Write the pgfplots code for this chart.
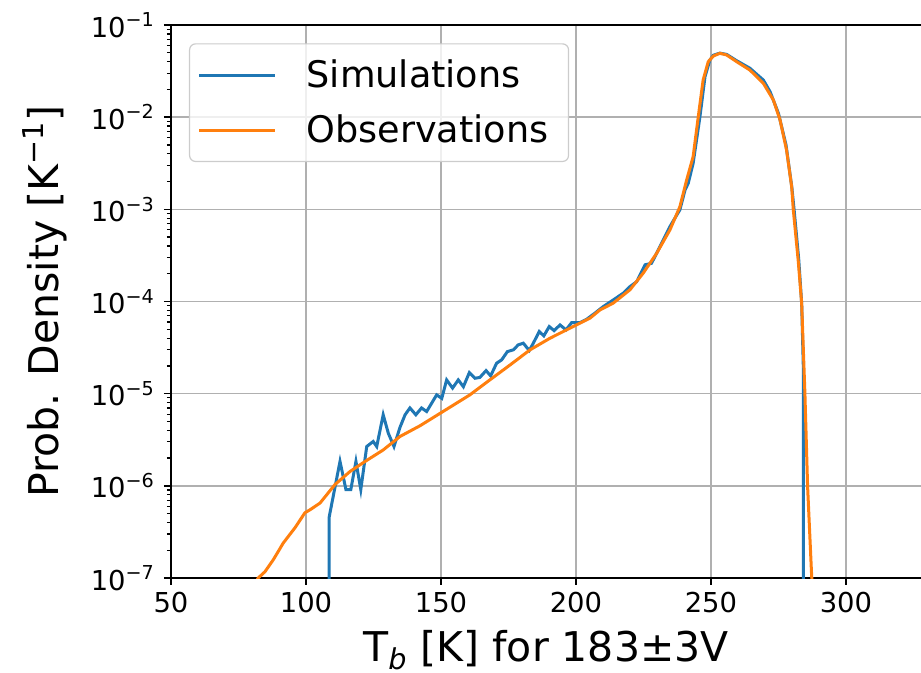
\documentclass[border=0pt]{standalone}
\usepackage{fontspec}
\setmainfont{DejaVu Sans}
\usepackage{pgfplots}
\pgfplotsset{compat=1.18}
\definecolor{mplblue}{HTML}{1F77B4}
\definecolor{mplorange}{HTML}{FF7F0E}
\definecolor{gridgray}{HTML}{B0B0B0}
\definecolor{legedge}{HTML}{CCCCCC}

\begin{document}
\begin{tikzpicture}
\begin{axis}[
  ymode=log,
  scale only axis,
  width=375pt, height=276.5pt,
  xmin=50, xmax=327.8, ymin=1e-7, ymax=1e-1,
  axis x line*=box, axis y line*=left,
  axis line style={line width=0.8pt,-},
  xtick pos=bottom, ytick pos=left,
  tick align=outside,
  major tick length=3.5pt, minor tick length=2pt,
  every tick/.style={black, line width=0.8pt},
  minor tick style={black, line width=0.6pt},
  grid=major,
  major grid style={gridgray, line width=0.8pt},
  xtick={50,100,150,200,250,300},
  xticklabels={50,100,150,200,250,300},
  ytick={1e-7,1e-6,1e-5,1e-4,1e-3,1e-2,1e-1},
  yticklabels={10\textsuperscript{−7},10\textsuperscript{−6},10\textsuperscript{−5},10\textsuperscript{−4},10\textsuperscript{−3},10\textsuperscript{−2},10\textsuperscript{−1}},
  minor ytick={2e-7,3e-7,4e-7,5e-7,6e-7,7e-7,8e-7,9e-7,
               2e-6,3e-6,4e-6,5e-6,6e-6,7e-6,8e-6,9e-6,
               2e-5,3e-5,4e-5,5e-5,6e-5,7e-5,8e-5,9e-5,
               2e-4,3e-4,4e-4,5e-4,6e-4,7e-4,8e-4,9e-4,
               2e-3,3e-3,4e-3,5e-3,6e-3,7e-3,8e-3,9e-3,
               2e-2,3e-2,4e-2,5e-2,6e-2,7e-2,8e-2,9e-2},
  ticklabel style={font=\fontsize{13.7}{16}\selectfont},
  yticklabel style={xshift=-1pt},
  xlabel={T\textsubscript{\itshape b} [K] for 183±3V},
  ylabel={Prob. Density [K\textsuperscript{−1}]},
  every axis x label/.style={at={(axis description cs:0.5,-0.151)}, anchor=base,
    font=\fontsize{20.5}{24}\selectfont},
  every axis y label/.style={at={(axis description cs:-0.168,0.5)}, rotate=90, anchor=center,
    font=\fontsize{20.5}{24}\selectfont},
  legend cell align=left,
  legend style={at={(0.024,0.967)}, anchor=north west, draw=legedge, line width=0.6pt,
    fill=white, fill opacity=0.8, text opacity=1, rounded corners=3pt,
    font=\fontsize{18.3}{22}\selectfont, inner xsep=4pt, inner ysep=6pt,
    row sep=8pt},
  legend image code/.code={\draw[#1] (0pt,0pt) -- (38pt,0pt); \path (47pt,0pt);},
  every axis legend/.append style={nodes={inner xsep=6pt}},
]
\addplot[mplblue, line width=1.5pt] coordinates {
(108.5,1e-8) (108.6,4.6e-7) (112.6,1.84e-6) (114.8,9.1e-7) (116.6,9.1e-7)
(118.5,1.84e-6) (120.3,9.1e-7) (122.5,2.67e-6) (124.9,3.03e-6) (126.2,2.67e-6)
(128.6,5.9e-6) (130.5,3.72e-6) (132.6,2.67e-6) (134.8,4.3e-6) (136.7,5.9e-6)
(138.5,7.0e-6) (140.7,5.9e-6) (142.8,7.0e-6) (144.7,6.4e-6) (148.4,9.7e-6)
(150.3,8.9e-6) (152.1,1.41e-5) (154.3,1.15e-5) (156.4,1.41e-5) (158.3,1.19e-5)
(160.5,1.69e-5) (162.6,1.47e-5) (164.4,1.5e-5) (166.7,1.78e-5) (168.4,1.56e-5)
(170.6,2.14e-5) (172.5,2.33e-5) (174.6,2.86e-5) (176.8,2.99e-5) (178.6,3.38e-5)
(180.5,3.53e-5) (182.7,2.94e-5) (184.2,3.53e-5) (186.4,4.72e-5) (188.1,4.24e-5)
(190.1,5.35e-5) (191.9,4.83e-5) (194.1,5.57e-5) (196.3,4.92e-5) (198.4,5.9e-5)
(201.5,5.9e-5) (204.0,6.43e-5) (207.0,7.47e-5) (210.1,8.8e-5) (213.8,1.04e-4)
(217.5,1.23e-4) (220.0,1.45e-4) (222.5,1.64e-4) (225.6,2.5e-4) (228.0,2.6e-4)
(231.1,3.94e-4) (234.8,6.5e-4) (238.5,9.9e-4) (240.4,1.62e-3) (241.6,1.92e-3)
(243.4,3.16e-3) (245.9,1.0e-2) (247.8,2.75e-2) (249.6,4.17e-2) (250.9,4.7e-2)
(253.3,4.95e-2) (255.8,4.8e-2) (259.5,4.1e-2) (264.4,3.4e-2) (269.4,2.53e-2)
(271.9,1.89e-2) (275.0,1.1e-2) (277.8,5e-3) (280.0,1.7e-3) (280.8,9.9e-4)
(282.5,2.9e-4) (283.6,9.6e-5) (284.2,2.0e-5) (284.3,1e-8)
};
\addlegendentry{Simulations}
\addplot[mplorange, line width=1.5pt] coordinates {
(81,8.5e-8) (82.3,1.0e-7) (84.8,1.17e-7) (87.9,1.58e-7) (91.6,2.4e-7)
(95.9,3.5e-7) (99.6,5.1e-7) (101.5,5.5e-7) (105.2,6.5e-7) (110.7,1.03e-6)
(116.3,1.43e-6) (121.9,1.84e-6) (128.6,2.45e-6) (134.8,3.43e-6) (142.2,4.48e-6)
(149.6,6.1e-6) (160.7,9.7e-6) (168.1,1.41e-5) (175.6,2.05e-5) (183.0,2.99e-5)
(190.4,4.0e-5) (199.0,5.35e-5) (205.2,6.6e-5) (208.9,8.1e-5) (213.8,9.6e-5)
(220.0,1.34e-4) (224.9,2.03e-4) (229.9,3.34e-4) (234.8,5.98e-4) (238.5,1.07e-3)
(241.0,2.08e-3) (243.4,3.73e-3) (245.3,1.01e-2) (247.1,2.53e-2) (249.0,4.0e-2)
(250.9,4.61e-2) (253.3,4.93e-2) (255.8,4.73e-2) (259.5,4.0e-2) (264.4,3.25e-2)
(269.4,2.33e-2) (273.1,1.54e-2) (275.6,9.3e-3) (278.0,4.4e-3) (279.9,1.76e-3)
(280.5,9.9e-4) (282.3,2.82e-4) (283.6,9.6e-5) (284.8,1.01e-5) (285.8,9.8e-7)
(287.3,1.05e-7) (287.6,8e-8)
};
\addlegendentry{Observations}
\end{axis}
\pgfresetboundingbox
\path ([shift={(-85.5pt,-47.5pt)}]current axis.south west) rectangle ([shift={(0pt,12.5pt)}]current axis.north east);
\end{tikzpicture}
\end{document}
